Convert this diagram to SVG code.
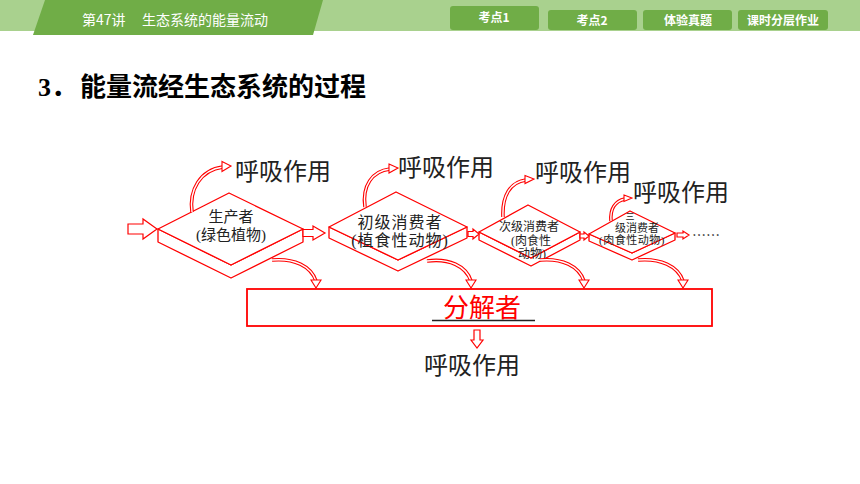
<svg xmlns="http://www.w3.org/2000/svg" width="860" height="484" viewBox="0 0 860 484">
<style>
.lg{fill:#a9d18e}
.dg{fill:#70ad47}
.tab{fill:#70ad47}
.tabt{fill:#fff;font-family:"Noto Sans CJK SC",sans-serif;font-size:12px;font-weight:bold;text-anchor:middle}
.ttl{fill:#fff;font-family:"Noto Sans CJK SC",sans-serif;font-size:14px}
.h{fill:#000;font-family:"Liberation Serif","Noto Sans CJK SC",serif;font-size:26px;font-weight:bold}
.face{fill:#fff;stroke:#f00;stroke-width:1.3;stroke-linejoin:round}
.lbl{fill:#222;font-family:"Liberation Serif","Noto Sans CJK SC",serif;text-anchor:middle}
.resp{fill:#222;font-family:"Noto Sans CJK SC",sans-serif;font-size:24px}
.blk{fill:#fff;stroke:#f00;stroke-width:1.2;stroke-linejoin:miter}
.co{fill:none;stroke:#f00;stroke-width:3.6;stroke-linecap:butt}
.ci{fill:none;stroke:#fff;stroke-width:1.4;stroke-linecap:butt}
.hd{fill:#fff;stroke:#f00;stroke-width:1.1;stroke-linejoin:miter}
</style>
<defs>
<path id="r1" d="M192,212 C189,190 200,170 223,167"/>
<path id="r2" d="M365,207 C362,186 372,171 390,169"/>
<path id="r3" d="M503,217 C502,196 510,182 526,180"/>
<path id="r4" d="M611,221 C610,209 615,201 625,199"/>
<path id="d1" d="M272,260 C294,258 311,266 316,281"/>
<path id="d2" d="M427,261 C449,258 466,266 471,281"/>
<path id="d3" d="M540,260 C562,258 579,266 584,281"/>
<path id="d4" d="M638,260 C660,258 678,266 683,281"/>
</defs>
<rect width="860" height="484" fill="#fff"/>
<g id="header">
<rect class="lg" x="0" y="0" width="860" height="31"/>
<polygon class="dg" points="45,0 323,0 313,35 33,35"/>
<text class="ttl" x="82" y="25">第47讲<tspan x="142">生态系统的能量流动</tspan></text>
<rect class="tab" x="450" y="6" width="89" height="24" rx="3"/>
<text class="tabt" x="494" y="22">考点1</text>
<rect class="tab" x="548" y="10" width="89" height="20" rx="3"/>
<text class="tabt" x="592" y="25">考点2</text>
<rect class="tab" x="643" y="10" width="89" height="20" rx="3"/>
<text class="tabt" x="688" y="25">体验真题</text>
<rect class="tab" x="738" y="10" width="90" height="20" rx="3"/>
<text class="tabt" x="783" y="25">课时分层作业</text>
</g>
<text class="h" x="38" y="96">3．<tspan x="80">能量流经生态系统的过程</tspan></text>
<g id="producer">
<polygon class="face" points="158,229 158,242 231,278 303,242 303,229 231,265"/>
<polygon class="face" points="158,229 229,193 303,229 231,265"/>
<text class="lbl" font-size="15" x="231" y="222">生产者</text>
<text class="lbl" font-size="15" x="231" y="240">(绿色植物)</text>
</g>
<g id="primary">
<polygon class="face" points="329,227 329,238 398,271 467,238 467,227 398,260"/>
<polygon class="face" points="329,227 396,192 467,227 398,260"/>
<text class="lbl" font-size="16" letter-spacing="1" x="400" y="228">初级消费者</text>
<text class="lbl" font-size="16" letter-spacing="1" x="400" y="246">(植食性动物)</text>
</g>
<g id="secondary">
<polygon class="face" points="479,232 479,240 531,266 580,240 580,232 531,258"/>
<polygon class="face" points="479,232 528,205 580,232 531,258"/>
<text class="lbl" font-size="12" x="529" y="231">次级消费者</text>
<text class="lbl" font-size="12" x="531" y="244.5">(肉食性</text>
<text class="lbl" font-size="12" x="532" y="258">动物)</text>
</g>
<g id="tertiary">
<polygon class="face" points="589,234 589,241 632,260 675,240 675,233 632,253"/>
<polygon class="face" points="589,234 630,211 675,233 632,253"/>
<text class="lbl" font-size="9" x="630" y="220">三</text>
<text class="lbl" font-size="11" x="637" y="232">级消费者</text>
<text class="lbl" font-size="11" letter-spacing="0.5" x="632" y="244">(肉食性动物)</text>
</g>
<g id="decomposer">
<rect x="247" y="289" width="465" height="37" fill="#fff" stroke="#f00" stroke-width="1.8"/>
<text x="443" y="317" fill="#f00" font-family="Noto Sans CJK SC,sans-serif" font-size="26">分解者</text>
<line x1="432" y1="320.5" x2="535" y2="320.5" stroke="#222" stroke-width="1.5"/>
</g>
<g id="labels">
<text class="resp" x="235" y="180">呼吸作用</text>
<text class="resp" x="398" y="176">呼吸作用</text>
<text class="resp" x="535" y="181">呼吸作用</text>
<text class="resp" x="633" y="201">呼吸作用</text>
<text class="resp" x="424" y="374">呼吸作用</text>
<text x="692" y="240" fill="#222" font-family="Noto Sans CJK SC,sans-serif" font-size="14">……</text>
</g>
<g id="connectors">
<polygon class="blk" points="128,224 143,224 143,219 157,229 143,239 143,234 128,234"/>
<polygon class="blk" points="303,229.5 313,229.5 313,226 325,233 313,240 313,236.5 303,236.5"/>
<polygon class="blk" points="468,231.5 473,231.5 473,229 479,234 473,239 473,236.5 468,236.5"/>
<polygon class="blk" points="580,234 584,234 584,232 589,236 584,240 584,238 580,238"/>
<polygon class="blk" points="677,233 683,233 683,231 689,235 683,239 683,237 677,237"/>
<polygon class="blk" points="474,330 480,330 480,340 483,340 477,348 471,340 474,340"/>
<use href="#r1" class="co"/><use href="#r1" class="ci"/>
<use href="#r2" class="co"/><use href="#r2" class="ci"/>
<use href="#r3" class="co"/><use href="#r3" class="ci"/>
<use href="#r4" class="co"/><use href="#r4" class="ci"/>
<use href="#d1" class="co"/><use href="#d1" class="ci"/>
<use href="#d2" class="co"/><use href="#d2" class="ci"/>
<use href="#d3" class="co"/><use href="#d3" class="ci"/>
<use href="#d4" class="co"/><use href="#d4" class="ci"/>
<polygon class="hd" points="222,161.5 231,166 222,171.5"/>
<polygon class="hd" points="389,164 398,168 389,173"/>
<polygon class="hd" points="525,175.5 534,179 525,183.5"/>
<polygon class="hd" points="624,195 632,198 624,201.5"/>
<polygon class="hd" points="311,280 321,280 316,288"/>
<polygon class="hd" points="466,280 476,280 471,288"/>
<polygon class="hd" points="579,280 589,280 584,288"/>
<polygon class="hd" points="678,280 688,280 683,288"/>
</g>
</svg>
